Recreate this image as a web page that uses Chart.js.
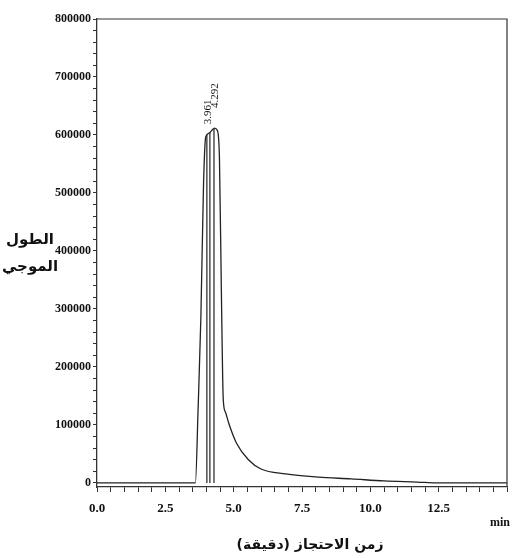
<!DOCTYPE html>
<html lang="ar">
<head>
  <meta charset="UTF-8">
  <title>كروماتوغرام</title>
  <script src="https://cdn.jsdelivr.net/npm/chart.js"></script>
  <style>
    html, body { margin: 0; padding: 0; background: #fff; }
    #wrap { position: relative; width: 516px; height: 558px; }
  </style>
</head>
<body>
  <div id="wrap">
    <canvas id="grafica" width="516" height="558"></canvas>
  </div>

  <script>
    // زمن الاحتجاز (دقيقة) والارتفاع المقروء من الصورة
    const tiempos = [0, 3.6, 3.7, 3.8, 3.9, 3.98, 4.1, 4.2, 4.3, 4.4, 4.48, 4.55, 4.62, 4.7, 4.82, 5.1, 5.54, 6.0, 6.9, 8.1, 9.3, 10.5, 11.7, 12.5, 15];
    const senal = [0, 0, 130000, 285000, 520000, 597000, 603000, 608000, 612000, 608000, 560000, 330000, 143000, 122000, 103000, 69000, 40000, 24000, 15500, 10000, 7000, 3500, 1500, 0, 0];

    // خطوط الفصل الرأسية
    const lineasT = [4.02, 4.13, 4.28];
    const lineasAlto = [600000, 604000, 611000];

    // أزمنة القمم المكتوبة
    const picosTexto = ['3.961', '4.292'];
    const picosT = [4.05, 4.32];
    const picosY = [640000, 668000];

    const yTicks = [];
    for (let v = 0; v <= 800000; v += 20000) yTicks.push(v);
    const xTicks = [];
    for (let t = 0; t <= 15; t += 0.5) xTicks.push(t);

    const tituloY = ['الطول', 'الموجي'];
    const tituloX = 'زمن الاحتجاز (دقيقة)';
    const unidadX = 'min';

    const traza = tiempos.map((t, i) => ({ x: t, y: senal[i] }));
    const lineas = lineasT.map((t, i) => ({
      data: [{ x: t, y: 0 }, { x: t, y: lineasAlto[i] }],
      showLine: true, borderColor: '#222', borderWidth: 1.2, pointRadius: 0
    }));

    const textos = {
      id: 'textos',
      afterDraw(chart) {
        const ctx = chart.ctx;
        const xs = chart.scales.x, ys = chart.scales.y;
        ctx.save();
        ctx.fillStyle = '#111';
        // etiquetas de picos, giradas
        ctx.font = '11px "Liberation Serif"';
        picosTexto.forEach((txt, i) => {
          ctx.save();
          ctx.translate(xs.getPixelForValue(picosT[i]), ys.getPixelForValue(picosY[i]));
          ctx.rotate(-Math.PI / 2);
          ctx.textAlign = 'center';
          ctx.textBaseline = 'middle';
          ctx.fillText(txt, 0, 0);
          ctx.restore();
        });
        // titulo eje y
        ctx.font = 'bold 15px "DejaVu Sans"';
        ctx.textAlign = 'center';
        ctx.textBaseline = 'middle';
        ctx.fillText(tituloY[0], 30, 240);
        ctx.fillText(tituloY[1], 30, 267);
        // titulo eje x
        ctx.font = 'bold 14px "DejaVu Sans"';
        ctx.fillText(tituloX, 310, 545);
        ctx.font = 'bold 12px "Liberation Serif"';
        ctx.fillText(unidadX, 500, 523);
        // marco superior y derecho
        const a = chart.chartArea;
        ctx.strokeStyle = '#333';
        ctx.lineWidth = 1.2;
        ctx.beginPath();
        ctx.moveTo(a.left, a.top);
        ctx.lineTo(a.right, a.top);
        ctx.lineTo(a.right, a.bottom);
        ctx.stroke();
        ctx.restore();
      }
    };

    new Chart(document.getElementById('grafica').getContext('2d'), {
      type: 'scatter',
      data: {
        datasets: [{
          data: traza,
          showLine: true,
          borderColor: '#222',
          borderWidth: 1.3,
          pointRadius: 0,
          cubicInterpolationMode: 'monotone'
        }, ...lineas]
      },
      options: {
        responsive: false,
        animation: false,
        layout: { padding: { left: 0, top: 19, right: 6, bottom: 0 } },
        plugins: { legend: { display: false }, tooltip: { enabled: false } },
        scales: {
          x: {
            type: 'linear',
            min: 0,
            max: 15,
            afterBuildTicks: s => { s.ticks = xTicks.map(v => ({ value: v })); },
            afterFit: s => { s.height = 71; },
            ticks: {
              autoSkip: false,
              maxRotation: 0,
              color: '#111',
              font: { family: 'Liberation Serif', size: 13, weight: 'bold' },
              padding: 9,
              callback: v => (v % 2.5 === 0 && v < 15) ? v.toFixed(1) : ''
            },
            grid: { drawOnChartArea: false, drawTicks: true, tickLength: 5, color: '#333' },
            border: { display: true, color: '#333', width: 1.3 }
          },
          y: {
            type: 'linear',
            min: -7000,
            max: 800000,
            afterBuildTicks: s => { s.ticks = yTicks.map(v => ({ value: v })); },
            afterFit: s => { s.width = 97; },
            ticks: {
              autoSkip: false,
              color: '#111',
              font: { family: 'Liberation Serif', size: 12, weight: 'bold' },
              padding: 2,
              callback: v => v % 100000 === 0 ? String(v) : ''
            },
            grid: { drawOnChartArea: false, drawTicks: true, tickLength: 4, color: '#333' },
            border: { display: true, color: '#333', width: 1.3 }
          }
        }
      },
      plugins: [textos]
    });
  </script>
</body>
</html>
